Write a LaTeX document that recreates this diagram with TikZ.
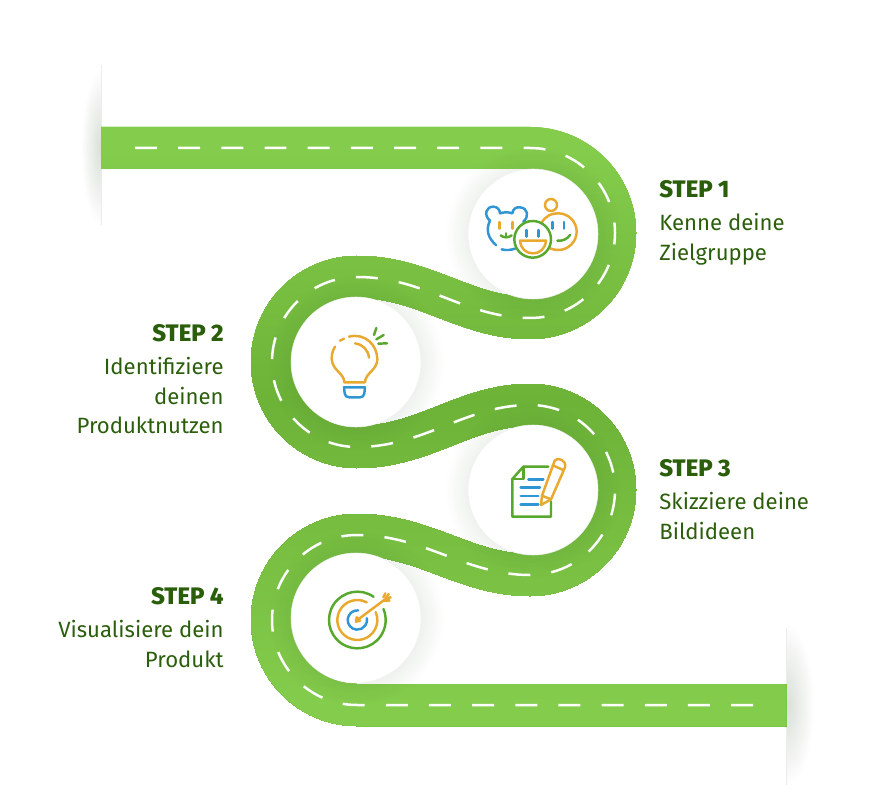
\documentclass[tikz,border=0pt]{standalone}
\usepackage{fontspec}
\setmainfont{Fira Sans}[BoldFont={Fira Sans ExtraBold}]
\usepackage{tikz}
\usetikzlibrary{positioning,arrows.meta,fadings}
\definecolor{roadbright}{HTML}{84CC4C}
\definecolor{roaddark}{HTML}{6DB338}
\definecolor{roadshade}{HTML}{2F5B20}
\definecolor{textgreen}{HTML}{2B5E0B}
\definecolor{iconblue}{HTML}{2F96D3}
\definecolor{iconorange}{HTML}{E9A92F}
\definecolor{icongreen}{HTML}{58A82E}
\tikzfading[name=glowfade, inner color=transparent!0, outer color=transparent!100]
\newcommand{\stephead}[1]{{\fontsize{13.6}{16.6}\selectfont\bfseries #1}}
\def\roadbends{(530,148) arc[start angle=-90,end angle=90,radius=85]
 .. controls (465,318) and (425,277) .. (357,277) arc[start angle=-90,end angle=-270,radius=85]
 .. controls (425,447) and (465,405) .. (530,405) arc[start angle=-90,end angle=90,radius=85]
 .. controls (465,575) and (425,535) .. (357,535) arc[start angle=-90,end angle=-270,radius=85]}

\begin{document}
\begin{tikzpicture}[
x=0.02cm, y=-0.02cm,
road/.style={line width=0.84cm},
lane/.style={line width=0.05cm, white, dash pattern=on 0.44cm off 0.4235cm},
glow/.style={fill=roadshade, path fading=glowfade, opacity=0.3},
disc/.style={fill=white, draw=gray!12, line width=0.3pt},
endglow/.style={fill=roadshade!60!gray, path fading=glowfade, opacity=0.22},
endline/.style={gray!15, line width=0.4pt},
label/.style={font=\fontsize{12.6}{16.6}\selectfont, text=textgreen, inner sep=0pt},
blueline/.style={iconblue, line width=1.4pt, line cap=round, line join=round},
orangeline/.style={iconorange, line width=1.4pt, line cap=round, line join=round},
greenline/.style={icongreen, line width=1.4pt, line cap=round, line join=round}
]
\useasboundingbox (0,0) rectangle (888,810);
\coordinate (start) at (101,148);
\coordinate (finish) at (786,705);
\coordinate (lanestart) at (135,148);
\coordinate (laneend) at (754,705);

% road ends
\begin{scope}
\clip (60,40) rectangle (101,240);
\fill[endglow] (101,148) ellipse [x radius=20, y radius=78];
\end{scope}
\begin{scope}
\clip (786,610) rectangle (830,800);
\fill[endglow] (786,705) ellipse [x radius=28, y radius=82];
\end{scope}
\draw[endline] (101,65) -- (101,225);
\draw[endline] (786,628) -- (786,785);

% road, brightest at top and bottom
\foreach \yy in {120,123,...,729} {
  \pgfmathsetmacro{\mixval}{min(100,abs(\yy-400)/(\yy<400 ? 2.52 : 3.05))}
  \begin{scope}
  \clip (90,\yy) rectangle (786,735);
  \draw[road, color=roadbright!\mixval!roaddark] (start) -- \roadbends -- (finish);
  \end{scope}
}
\draw[lane] (lanestart) -- \roadbends -- (laneend);

% discs
\foreach \cx/\cy in {533/234, 356/362, 533/490, 356/618} {
  \fill[glow] (\cx,\cy) circle [radius=88];
}
\foreach \cx/\cy in {533/234, 356/362, 533/490, 356/618} {
  \filldraw[disc] (\cx,\cy) circle [radius=65];
}

% faces
\begin{scope}[shift={(460,170)}, scale=1/3]
\draw[blueline] (108,225) .. controls (85,205) and (76,180) .. (90,152) .. controls (70,135) and (78,110) .. (100,110) .. controls (112,110) and (120,120) .. (120,130) .. controls (130,126) and (148,126) .. (157,130) .. controls (158,118) and (168,110) .. (180,112) .. controls (204,114) and (208,140) .. (190,155);
\draw[blueline] (125,238) .. controls (138,242) and (152,240) .. (165,236);
\draw[orangeline] (118,156) -- (118,176);
\draw[orangeline] (158,156) -- (158,176);
\draw[greenline] (122,196) .. controls (130,204) and (146,204) .. (155,196);
\draw[greenline] (138,190) -- (138,200);
\draw[orangeline] (273,105) circle [radius=18];
\draw[orangeline] (245,158) .. controls (258,136) and (275,130) .. (295,130) .. controls (325,130) and (350,155) .. (350,185) .. controls (350,215) and (325,240) .. (295,240) .. controls (285,240) and (277,238) .. (270,235);
\draw[blueline] (278,156) -- (278,176);
\draw[blueline] (312,156) -- (312,176);
\draw[greenline] (292,212) .. controls (308,214) and (322,207) .. (330,195);
\draw[greenline] (218,208) circle [radius=55];
\draw[blueline] (200,180) -- (200,200);
\draw[blueline] (236,180) -- (236,200);
\draw[orangeline] (180,212) -- (258,212) .. controls (256,236) and (240,250) .. (218,250) .. controls (198,250) and (182,236) .. (180,212) -- cycle;
\end{scope}

% bulb
\begin{scope}[shift={(300,310)}, scale=1/3]
\draw[orangeline] (147,80) .. controls (195,68) and (232,105) .. (232,148) .. controls (232,180) and (195,190) .. (195,217) -- (133,217) .. controls (133,190) and (95,180) .. (95,145) .. controls (95,130) and (100,118) .. (105,110);
\draw[orangeline] (120,92) -- (132,86);
\draw[orangeline] (165,100) .. controls (187,102) and (205,120) .. (207,143);
\draw[blueline] (132,232) -- (195,232) -- (193,250) .. controls (192,258) and (187,262) .. (180,262) -- (148,262) .. controls (140,262) and (135,258) .. (134,250) -- cycle;
\draw[greenline] (222,75) -- (229,54);
\draw[greenline] (229,88) -- (251,75);
\draw[greenline] (235,101) -- (261,100);
\end{scope}

% paper and pencil
\begin{scope}[shift={(480,440)}, scale=1/3]
\draw[greenline] (205,80) -- (130,80) -- (97,117) -- (97,230) -- (213,230) -- (213,185);
\draw[greenline] (130,80) -- (130,117) -- (97,117);
\draw[blueline] (145,118) -- (190,118);
\draw[blueline] (122,143) -- (180,143);
\draw[blueline] (122,168) -- (175,168);
\draw[blueline] (122,193) -- (175,193);
\draw[orangeline] (183,195) -- (186,167) -- (224,62) .. controls (232,50) and (260,60) .. (255,82) -- (213,178) -- cycle;
\draw[orangeline] (186,167) -- (213,178);
\draw[orangeline] (218,76) -- (250,90);
\end{scope}

% target
\begin{scope}[shift={(300,570)}, scale=1/3]
\draw[greenline] (172,150) ++(-55:85) arc[start angle=-55,end angle=-383,radius=85];
\draw[orangeline] (172,150) ++(-62:60) arc[start angle=-62,end angle=-383,radius=60];
\draw[blueline] (172,150) ++(-85:29) arc[start angle=-85,end angle=-370,radius=29];
\draw[orangeline] (172,150) -- (258,86);
\draw[orangeline] (168,155) -- (170,142) -- (180,152) -- cycle;
\draw[orangeline] (250,82) -- (256,70);
\draw[orangeline] (258,84) -- (266,72);
\draw[orangeline] (258,86) -- (272,82);
\draw[orangeline] (252,92) -- (268,92);
\end{scope}

% labels
\node[label, align=left, anchor=north west] (stepone) at (659,180.5) {\stephead{STEP 1}\\[2.2pt]Kenne deine\\Zielgruppe};
\node[label, align=right, anchor=north east] (steptwo) at (224,324.5) {\stephead{STEP 2}\\[2.2pt]Identifiziere\\deinen\\Produktnutzen};
\node[label, align=left, anchor=north west] (stepthree) at (659,459.5) {\stephead{STEP 3}\\[2.2pt]Skizziere deine\\Bildideen};
\node[label, align=right, anchor=north east] (stepfour) at (224,587.5) {\stephead{STEP 4}\\[2.2pt]Visualisiere dein\\Produkt};
\end{tikzpicture}
\end{document}
